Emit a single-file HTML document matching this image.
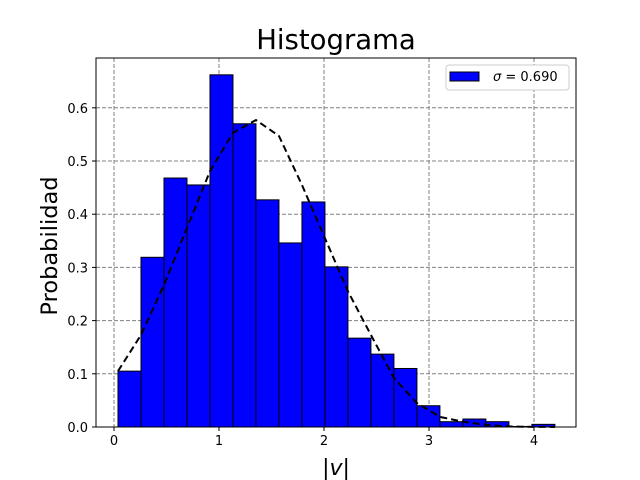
<!DOCTYPE html>
<html><head><meta charset="utf-8"><style>body{margin:0;background:#fff}svg{display:block;font-family:"DejaVu Sans","Liberation Sans",sans-serif}</style></head>
<body>
<svg id="c" width="640" height="480">
<rect width="640" height="480" fill="#fff"/>
<text x="336" y="49" font-size="27.5" text-anchor="middle">Histograma</text>
<g id="grid"></g><g id="bars"></g><g id="curve"></g><g id="axes"></g>
<text x="336" y="475" font-size="22" text-anchor="middle" font-style="italic">|v|</text>
<text transform="translate(57,246) rotate(-90)" font-size="22.5" text-anchor="middle">Probabilidad</text>
<g>
<rect x="446" y="65" width="123" height="25" rx="3" fill="#fff" stroke="#ccc"/>
<rect x="450" y="72" width="29" height="9" fill="#0000ff" stroke="#000"/>
<text x="493" y="81" font-size="13"><tspan font-style="italic">σ</tspan> = 0.690</text>
</g>
</svg>
<script>
const xTicks=[0,1,2,3,4];
const yTicks=[0,0.1,0.2,0.3,0.4,0.5,0.6];
const binStart=0.038, binWidth=0.219;
const barHeights=[0.105,0.319,0.468,0.455,0.662,0.570,0.427,0.346,0.423,0.301,0.167,0.137,0.110,0.040,0.010,0.015,0.010,0.001,0.005];
const curveValues=[0.105,0.173,0.267,0.374,0.481,0.553,0.577,0.547,0.455,0.355,0.255,0.173,0.092,0.045,0.019,0.010,0.004,0.001,0.0003,0.0001];
const L=96,R=576,T=58,B=427;
const X=v=>114+v*105, Y=v=>427-v*532;
const ns="http://www.w3.org/2000/svg";
function mk(t,a,p){const e=document.createElementNS(ns,t);for(const k in a)e.setAttribute(k,a[k]);p.appendChild(e);return e;}
const g=document.getElementById('grid'),ax=document.getElementById('axes');
xTicks.forEach(t=>{
 const l=mk('line',{x1:X(t),x2:X(t),y1:T,y2:B,stroke:'#808080','stroke-dasharray':'4,2','stroke-width':1},g);
 
 
 mk('line',{x1:X(t),x2:X(t),y1:B,y2:B+4,stroke:'#000'},ax);
 const tx=mk('text',{x:X(t),y:B+18,'font-size':13,'text-anchor':'middle'},ax);tx.textContent=t;
 
 
});
yTicks.forEach(t=>{
 const l=mk('line',{x1:L,x2:R,y1:Y(t),y2:Y(t),stroke:'#808080','stroke-dasharray':'4,2','stroke-width':1},g);
 
 
 mk('line',{x1:L-4,x2:L,y1:Y(t),y2:Y(t),stroke:'#000'},ax);
 const tx=mk('text',{x:L-8,y:Y(t)+5,'font-size':13,'text-anchor':'end'},ax);tx.textContent=t.toFixed(1);
 
 
});
const bg=document.getElementById('bars');
barHeights.forEach((h,i)=>{
 const x0=X(binStart+i*binWidth),x1=X(binStart+(i+1)*binWidth);
 const r=mk('rect',{x:x0,y:Y(h),width:x1-x0,height:B-Y(h),fill:'#0000ff',stroke:'#000','stroke-width':1},bg);
 
 
});
const pts=curveValues.map((v,i)=>X(binStart+i*binWidth)+','+Y(v)).join(' ');
const pl=mk('polyline',{points:pts,fill:'none',stroke:'#000','stroke-width':2,'stroke-dasharray':'7,4'},document.getElementById('curve'));


const fr=mk('rect',{x:L,y:T,width:R-L,height:B-T,fill:'none',stroke:'#000','stroke-width':1},ax);


</script>
</body></html>
